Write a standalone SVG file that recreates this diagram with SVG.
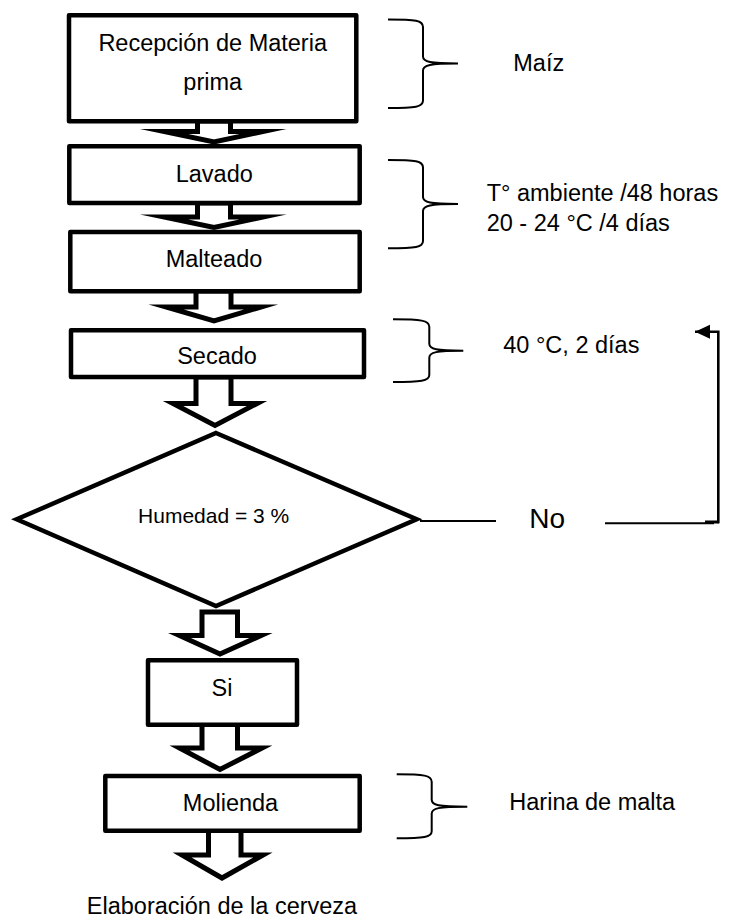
<svg xmlns="http://www.w3.org/2000/svg" width="732" height="920" viewBox="0 0 732 920">
  <defs>
    <style>
      .box { fill: #ffffff; stroke: #000000; stroke-width: 4.5; stroke-linejoin: round; }
      .dec { fill: #ffffff; stroke: #000000; stroke-width: 4.5; stroke-linejoin: miter; stroke-miterlimit: 10; }
      .blk { fill: #ffffff; stroke: #000000; stroke-width: 5; stroke-linejoin: miter; stroke-miterlimit: 10; }
      .brace { fill: none; stroke: #000000; stroke-width: 2; }
      .line { fill: none; stroke: #000000; stroke-width: 2; }
      .t { font-family: "Liberation Sans", Arial, sans-serif; font-size: 23.5px; fill: #000000; }
      .c { text-anchor: middle; }
    </style>
    <marker id="head" markerWidth="16" markerHeight="16" refX="15" refY="7" orient="auto" markerUnits="userSpaceOnUse">
      <path d="M0,0 L15,7 L0,14 Z" fill="#000000"/>
    </marker>
  </defs>

  <rect width="732" height="920" fill="#ffffff"/>

  <!-- block arrows and feedback line -->
  <g id="connectors">
    <polygon class="blk" points="197.5,121 197.5,131.5 164,131.5 214,142 263,131.5 230.5,131.5 230.5,121"/>
    <polygon class="blk" points="197.5,203 197.5,217 164,217 214,227.5 263,217 230.5,217 230.5,203"/>
    <polygon class="blk" points="196,291 196,307 166,307 214,321 261,307 231,307 231,291"/>
    <polygon class="blk" points="196,377 196,403.5 173,403.5 215,425.5 257,403.5 231,403.5 231,377"/>
    <polygon class="blk" points="202,612 202,635.5 179.5,635.5 220,654 261,635.5 237.5,635.5 237.5,612"/>
    <polygon class="blk" points="202,724.5 202,748 179.5,748 220,769.5 262,748 237.5,748 237.5,724.5"/>
    <polygon class="blk" points="208.5,830.5 208.5,855 182,855 222,878 263,855 241,855 241,830.5"/>

    <!-- "No" branch back to Secado -->
    <line class="line" x1="420" y1="521" x2="496" y2="521"/>
    <line class="line" x1="605" y1="523.3" x2="714" y2="523.3"/>
    <line x1="705" y1="522" x2="719" y2="522" stroke="#000000" stroke-width="3"/>
    <polyline points="718.3,523.3 718.3,331.7 695,331.7" fill="none" stroke="#000000" stroke-width="2.6" marker-end="url(#head)"/>
  </g>

  <!-- side braces -->
  <g id="braces">
    <path class="brace" d="M388,19.5 C416,19.5 423,20.5 423,27 L423,56.5 C423,62 430,63.5 458,63.5 M458,63.5 C430,63.5 423,65 423,70.5 L423,100.5 C423,107 416,108 388,108"/>
    <path class="brace" d="M388,160 C416,160 423,161 423,167.5 L423,197 C423,202.5 430,204 458,204 M458,204 C430,204 423,205.5 423,211 L423,241 C423,247.3 416,248.3 388,248.3"/>
    <path class="brace" d="M393,319.3 C421,319.3 429.3,320.3 429.3,326.8 L429.3,343.7 C429.3,349.2 436,350.7 463.3,350.7 M463.3,350.7 C436,350.7 429.3,352.2 429.3,357.7 L429.3,375 C429.3,381 421,382 393,382"/>
    <path class="brace" d="M396.7,774.3 C424,774.3 431.7,775.3 431.7,781.8 L431.7,799.7 C431.7,805.2 438,806.7 467.3,806.7 M467.3,806.7 C438,806.7 431.7,808.2 431.7,813.7 L431.7,831.3 C431.7,837.3 424,838.3 396.7,838.3"/>
  </g>

  <g id="recepcion">
    <rect class="box" x="69" y="15.3" width="287.3" height="106"/>
    <text class="t c" x="212.7" y="50.7">Recepción de Materia</text>
    <text class="t c" x="212.7" y="90">prima</text>
  </g>
  <g id="lavado">
    <rect class="box" x="69.3" y="146.3" width="290.4" height="56.7"/>
    <text class="t c" x="214.3" y="181.7">Lavado</text>
  </g>
  <g id="malteado">
    <rect class="box" x="70.3" y="232" width="289.4" height="59.3"/>
    <text class="t c" x="214" y="266.7">Malteado</text>
  </g>
  <g id="secado">
    <rect class="box" x="71" y="330.3" width="293" height="46.7"/>
    <text class="t c" x="217" y="364">Secado</text>
  </g>
  <g id="humedad">
    <polygon class="dec" points="216,433 416.7,519.3 216,606 16.7,519.3"/>
    <text class="t c" x="213.7" y="522.7" style="font-size:21px">Humedad = 3 %</text>
  </g>
  <g id="si">
    <rect class="box" x="148" y="660.3" width="149" height="64.4"/>
    <text class="t c" x="222" y="696">Si</text>
  </g>
  <g id="molienda">
    <rect class="box" x="105.3" y="776" width="254.4" height="54.7"/>
    <text class="t c" x="230.5" y="810.7">Molienda</text>
  </g>

  <g id="notes">
    <text class="t" x="513.3" y="71">Maíz</text>
    <text class="t" x="486.7" y="200.7">T° ambiente /48 horas</text>
    <text class="t" x="486.7" y="230.7">20 - 24 °C /4 días</text>
    <text class="t" x="503.3" y="353.3">40 °C, 2 días</text>
    <text class="t" x="529.3" y="528.3" style="font-size:28px">No</text>
    <text class="t" x="509.3" y="810">Harina de malta</text>
  </g>

  <g id="elaboracion">
    <text class="t c" x="222" y="914">Elaboración de la cerveza</text>
  </g>
</svg>
